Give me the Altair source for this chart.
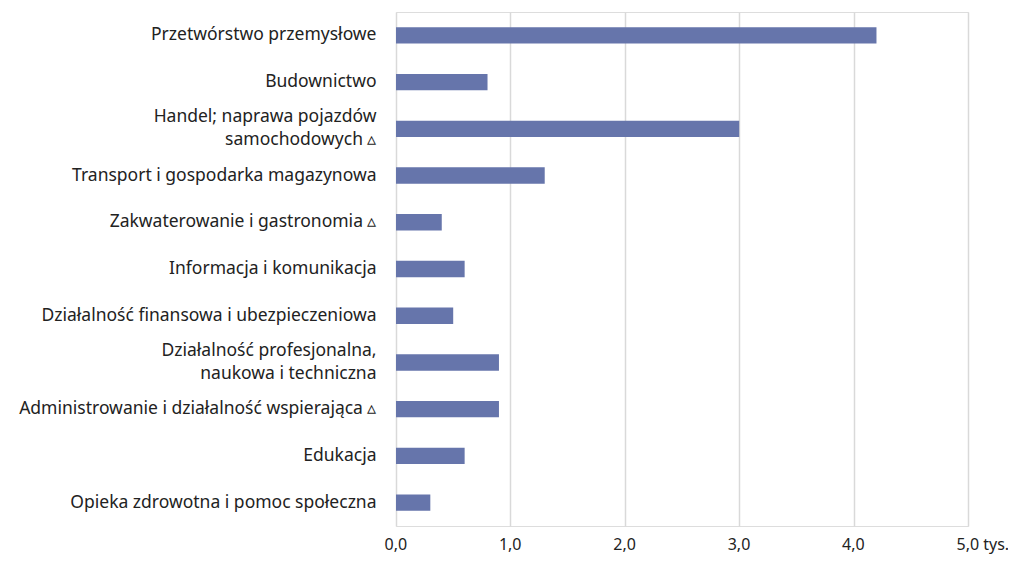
import altair as alt
import pandas as pd

categories = [
    "Przetwórstwo przemysłowe",
    "Budownictwo",
    "Handel; naprawa pojazdów|samochodowych ▵",
    "Transport i gospodarka magazynowa",
    "Zakwaterowanie i gastronomia ▵",
    "Informacja i komunikacja",
    "Działalność finansowa i ubezpieczeniowa",
    "Działalność profesjonalna,|naukowa i techniczna",
    "Administrowanie i działalność wspierająca ▵",
    "Edukacja",
    "Opieka zdrowotna i pomoc społeczna",
]
values = [4.2, 0.8, 3.0, 1.3, 0.4, 0.6, 0.5, 0.9, 0.9, 0.6, 0.3]

df = pd.DataFrame({"kategoria": categories, "wartosc": values})

FONT = "Noto Sans"

chart = (
    alt.Chart(df)
    .mark_bar(color="#6675ab")
    .encode(
        x=alt.X(
            "wartosc:Q",
            scale=alt.Scale(domain=[0, 5], nice=False),
            axis=alt.Axis(
                values=[0, 1, 2, 3, 4, 5],
                title=None,
                domain=False,
                ticks=False,
                grid=True,
                gridColor="#d9d9d9",
                gridWidth=1.5,
                labelExpr="datum.value == 5 ? '5,0 tys.' : replace(format(datum.value, '.1f'), '.', ',')",
                labelAlign="left",
                labelOffset=-12,
                labelPadding=10,
                labelFont=FONT,
                labelFontSize=16,
                labelColor="#222222",
            ),
        ),
        y=alt.Y(
            "kategoria:N",
            sort=categories,
            scale=alt.Scale(paddingInner=0.65, paddingOuter=0.325),
            axis=alt.Axis(
                title=None,
                domain=False,
                ticks=False,
                grid=False,
                labelExpr="split(datum.label, '|')",
                labelOffset={
                    "condition": {"test": "indexof(datum.label, '|') >= 0", "value": -11.5},
                    "value": 0,
                },
                labelPadding=20,
                labelFont=FONT,
                labelFontSize=17.5,
                labelColor="#222222",
                labelLineHeight=23,
                labelLimit=500,
            ),
        ),
    )
    .properties(
        width=572,
        height=514,
        autosize=alt.AutoSizeParams(type="none"),
        padding={"left": 388, "top": 4, "right": 40, "bottom": 29},
    )
    .configure_view(stroke=None)
    .configure(background="white")
)

chart.save("out.html", embed_options={"renderer": "svg", "actions": False})
